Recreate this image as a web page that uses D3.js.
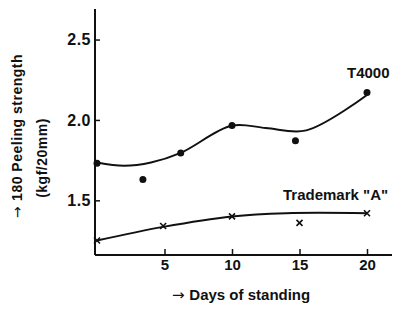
<!DOCTYPE html>
<html>
<head>
<meta charset="utf-8">
<script src="https://cdn.jsdelivr.net/npm/d3@7"></script>
<style>
  body { margin: 0; background: #fff; }
  text { font-family: "Liberation Sans", Arial, sans-serif; fill: #111; font-weight: bold; }
  tspan.arrow { font-family: "DejaVu Sans", sans-serif; font-weight: normal; }
</style>
</head>
<body>
<div id="chart"></div>
<script>
// measured points
var t4000Days = [0, 3.4, 6.2, 10, 14.7, 20];
var t4000Vals = [1.73, 1.63, 1.795, 1.965, 1.87, 2.17];
// fitted curve drawn through the T4000 data
var t4000CurveDays = [0, 2, 4, 6.2, 10, 12.5, 15.5, 20];
var t4000CurveVals = [1.735, 1.715, 1.735, 1.795, 1.965, 1.95, 1.935, 2.155];

var tmDays = [0, 4.9, 10, 15, 20];
var tmVals = [1.25, 1.34, 1.40, 1.36, 1.42];
var tmCurveDays = [0, 4.9, 10, 14, 20];
var tmCurveVals = [1.25, 1.335, 1.40, 1.42, 1.42];

var xTicks = [5, 10, 15, 20];
var yTicks = [1.5, 2.0, 2.5];

var width = 394, height = 309;

var svg = d3.select("#chart")
    .append("svg")
    .attr("width", width)
    .attr("height", height);

var x = d3.scaleLinear()
    .domain([0, 20])
    .range([97, 367]);

var y = d3.scaleLinear()
    .domain([1.16, 2.69])
    .range([255, 9]);

// axes
svg.append("g")
    .attr("transform", "translate(95,0)")
    .call(d3.axisLeft(y).tickValues(yTicks).tickFormat(d3.format(".1f"))
        .tickSize(-5).tickPadding(4))
    .call(function (g) {
        g.select(".domain").attr("d", "M0," + y(1.16) + "V" + y(2.69))
            .attr("stroke", "#111").attr("stroke-width", 2);
        g.selectAll(".tick line").attr("stroke", "#111").attr("stroke-width", 1.5);
        g.selectAll(".tick text").attr("font-size", 16).attr("letter-spacing", 0.5)
            .style("font-family", "Liberation Sans, Arial, sans-serif").style("font-weight", "bold");
    });

svg.append("g")
    .attr("transform", "translate(0," + y(1.16) + ")")
    .call(d3.axisBottom(x).tickValues(xTicks).tickSize(-6).tickPadding(4))
    .call(function (g) {
        g.select(".domain").attr("d", "M95,0H392")
            .attr("stroke", "#111").attr("stroke-width", 2);
        g.selectAll(".tick line").attr("stroke", "#111").attr("stroke-width", 1.5);
        g.selectAll(".tick text").attr("font-size", 15)
            .style("font-family", "Liberation Sans, Arial, sans-serif").style("font-weight", "bold");
    });

var line = d3.line()
    .x(function (d) { return x(d[0]); })
    .y(function (d) { return y(d[1]); })
    .curve(d3.curveCatmullRom.alpha(0.5));

svg.append("path")
    .datum(d3.zip(t4000CurveDays, t4000CurveVals))
    .attr("d", line)
    .attr("fill", "none")
    .attr("stroke", "#111")
    .attr("stroke-width", 2);

svg.append("path")
    .datum(d3.zip(tmCurveDays, tmCurveVals))
    .attr("d", line)
    .attr("fill", "none")
    .attr("stroke", "#111")
    .attr("stroke-width", 2);

// dots
svg.selectAll(".dot")
    .data(d3.zip(t4000Days, t4000Vals))
    .enter()
    .append("circle")
    .attr("cx", function (d) { return x(d[0]); })
    .attr("cy", function (d) { return y(d[1]); })
    .attr("r", 3.5)
    .attr("fill", "#111");

// crosses
var s = 3;
svg.selectAll(".cross")
    .data(d3.zip(tmDays, tmVals))
    .enter()
    .append("path")
    .attr("d", function (d) {
        var cx = x(d[0]), cy = y(d[1]);
        return "M" + (cx - s) + "," + (cy - s) + "L" + (cx + s) + "," + (cy + s) +
            "M" + (cx - s) + "," + (cy + s) + "L" + (cx + s) + "," + (cy - s);
    })
    .attr("stroke", "#111")
    .attr("stroke-width", 1.6)
    .attr("fill", "none");

// series labels
svg.append("text")
    .attr("x", 347)
    .attr("y", 78)
    .attr("font-size", 15)
    .text("T4000");

svg.append("text")
    .attr("x", 283)
    .attr("y", 200)
    .attr("font-size", 15)
    .text("Trademark \"A\"");

// axis titles
var yt = svg.append("text")
    .attr("transform", "translate(22,136) rotate(-90)")
    .attr("text-anchor", "middle")
    .attr("font-size", 14)
    .attr("letter-spacing", 0.5);
yt.append("tspan").attr("class", "arrow").text("\u2192 ");
yt.append("tspan").text("180  Peeling strength");

svg.append("text")
    .attr("transform", "translate(47,158) rotate(-90)")
    .attr("text-anchor", "middle")
    .attr("font-size", 14)
    .attr("letter-spacing", 0.5)
    .text("(kgf/20mm)");

var xt = svg.append("text")
    .attr("x", 172)
    .attr("y", 300)
    .attr("font-size", 15);
xt.append("tspan").attr("class", "arrow").text("\u2192 ");
xt.append("tspan").text("Days of standing");
</script>
</body>
</html>
